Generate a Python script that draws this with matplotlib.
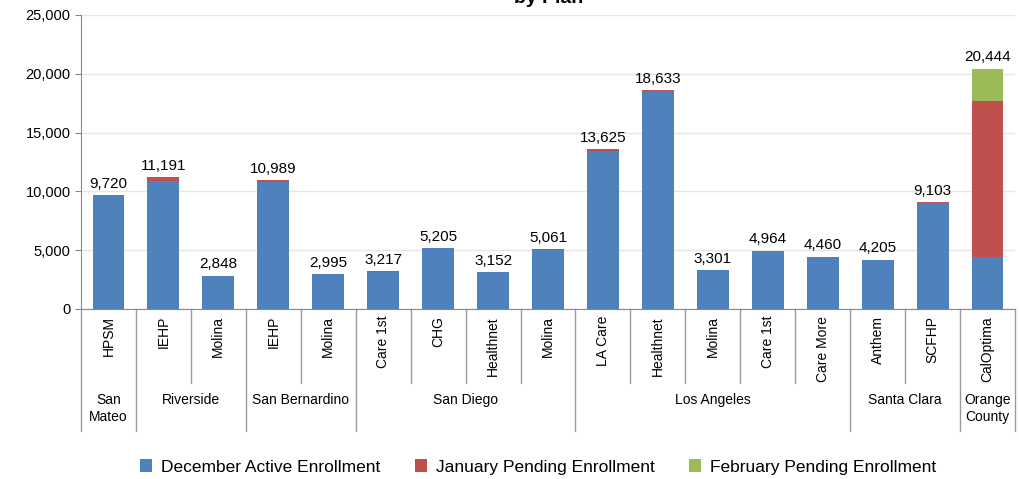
import numpy as np
import matplotlib.pyplot as plt
import matplotlib.transforms as mtransforms

plt.rcParams['font.family'] = ['Liberation Sans', 'DejaVu Sans']

# Datos
planes = ['HPSM', 'IEHP', 'Molina', 'IEHP', 'Molina', 'Care 1st', 'CHG',
          'Healthnet', 'Molina', 'LA Care', 'Healthnet', 'Molina', 'Care 1st',
          'Care More', 'Anthem', 'SCFHP', 'CalOptima']
condados = ['San\nMateo', 'Riverside', 'San Bernardino', 'San Diego',
            'Los Angeles', 'Santa Clara', 'Orange\nCounty']
n_por_condado = [1, 2, 2, 4, 5, 2, 1]

totales = [9720, 11191, 2848, 10989, 2995, 3217, 5205, 3152, 5061, 13625,
           18633, 3301, 4964, 4460, 4205, 9103, 20444]
enero = [30, 281, 20, 230, 20, 60, 15, 15, 40, 150, 130, 20, 50, 80, 30,
         120, 13280]
febrero = [0, 0, 0, 0, 0, 0, 0, 0, 0, 0, 0, 0, 0, 0, 0, 0, 2764]
diciembre = [t - e - f for t, e, f in zip(totales, enero, febrero)]

series = ['December Active Enrollment', 'January Pending Enrollment',
          'February Pending Enrollment']
colores = ['#4F81BD', '#C0504D', '#9BBB59']

fig = plt.figure(figsize=(10.19, 4.79), dpi=100)
ax = fig.add_axes([81/1019, 1 - 309/479, 934/1019, 294/479])

x = np.arange(len(planes))
ancho = 0.58
base = np.zeros(len(planes))
for vals, nom, col in zip([diciembre, enero, febrero], series, colores):
    ax.bar(x, vals, ancho, bottom=base, color=col, label=nom)
    base += np.array(vals)

for xi, t in zip(x, totales):
    ax.annotate(f"{t:,}", (xi, t), xytext=(0, 3), textcoords='offset points',
                ha='center', va='bottom', fontsize=11)

ax.set_xlim(-0.5, len(planes) - 0.5)
ax.set_ylim(0, 25000)
ax.set_yticks(np.arange(0, 25001, 5000))
ax.set_yticklabels([f"{v:,}" for v in range(0, 25001, 5000)], fontsize=10.5)
ax.yaxis.grid(True, color='#E6E6E6', lw=1)
ax.set_axisbelow(True)
ax.set_xticks([])
for s in ['top', 'right']:
    ax.spines[s].set_visible(False)
ax.spines['left'].set_color('#888888')
ax.spines['bottom'].set_color('#888888')
ax.tick_params(axis='y', length=4, color='#888888')

# Eje x de dos niveles
trans = mtransforms.blended_transform_factory(ax.transData, ax.transAxes)
px = 1 / 294
for xi, p in zip(x, planes):
    ax.text(xi, -7 * px, p, rotation=90, ha='center', va='top',
            fontsize=10, transform=trans)

limites = np.cumsum([0] + n_por_condado)
for k in range(len(planes) + 1):
    largo = -122 * px if k in limites else -74 * px
    ax.plot([k - 0.5, k - 0.5], [0, largo], color='#999999', lw=1,
            transform=trans, clip_on=False)
for c, i0, i1 in zip(condados, limites[:-1], limites[1:]):
    ax.text((i0 + i1 - 1) / 2, -84 * px, c, ha='center', va='top',
            fontsize=10, linespacing=1.25, transform=trans)

fig.text(0.538, 1 - 3/479, 'by Plan', ha='center', va='baseline',
         fontsize=14, fontweight='bold')

fig.legend(loc='center', bbox_to_anchor=(0.528, 1 - 467/479), ncol=3,
           frameon=False, fontsize=12.5, handlelength=0.7, handleheight=0.7,
           columnspacing=2.0, handletextpad=0.5)

fig.savefig('out.png', dpi=100)
